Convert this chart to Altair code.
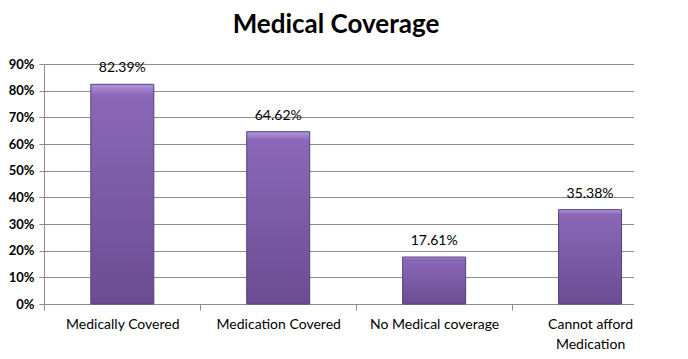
import altair as alt
import pandas as pd

categories = ["Medically Covered", "Medication Covered", "No Medical coverage", "Cannot afford Medication"]
values = [0.8239, 0.6462, 0.1761, 0.3538]
y_ticks = [0, 0.1, 0.2, 0.3, 0.4, 0.5, 0.6, 0.7, 0.8, 0.9]
title_text = "Medical Coverage"

df = pd.DataFrame({"cat": categories, "val": values})

FONT = "Lato"
GRID = "#8c8c8c"

x_enc = alt.X(
    "cat:N",
    sort=categories,
    title=None,
    scale=alt.Scale(paddingInner=0.596, paddingOuter=0.19, align=0.79),
    axis=alt.Axis(
        labelAngle=0,
        labelFont=FONT,
        labelFontSize=14,
        labelColor="#000000",
        labelPadding=7,
        labelLineHeight=20,
        labelOffset=78,
        labelExpr="datum.label == 'Cannot afford Medication' ? ['Cannot afford', 'Medication'] : datum.label",
        domain=True,
        domainColor=GRID,
        ticks=True,
        tickSize=6,
        tickColor=GRID,
        tickOffset=-78,
        grid=False,
    ),
)

y_enc = alt.Y(
    "val:Q",
    title=None,
    scale=alt.Scale(domain=[0, 0.9], nice=False),
    axis=alt.Axis(
        values=y_ticks,
        format=".0%",
        labelFont=FONT,
        labelFontSize=13,
        labelFontWeight="bold",
        labelColor="#000000",
        labelPadding=5,
        labelOverlap=False,
        domainColor=GRID,
        tickColor=GRID,
        tickSize=5,
        gridColor=GRID,
        gridWidth=1,
    ),
)

bar_fill = alt.Gradient(
    gradient="linear",
    x1=0, x2=0, y1=0, y2=1,
    stops=[
        alt.GradientStop(color="#b196dc", offset=0),
        alt.GradientStop(color="#8a68b8", offset=0.05),
        alt.GradientStop(color="#6a4d92", offset=1),
    ],
)

base = alt.Chart(df).encode(x=x_enc, y=y_enc)

bars = base.mark_bar(fill=bar_fill, stroke="#54407a", strokeWidth=1)

labels = base.mark_text(
    font=FONT, fontSize=14, color="#000000", dy=-9, baseline="bottom"
).encode(text=alt.Text("val:Q", format=".2%"))

chart = (
    alt.layer(bars, labels)
    .properties(
        width=590,
        height=240,
        padding={"left": 0, "top": 4, "right": 0, "bottom": 0},
        title=alt.TitleParams(
            title_text,
            font=FONT,
            fontSize=26,
            fontWeight="bold",
            color="#000000",
            anchor="middle",
            offset=20,
            dx=-3,
        ),
    )
    .configure_view(stroke=None)
)

chart.save("out.html", embed_options={"renderer": "svg", "actions": False})
